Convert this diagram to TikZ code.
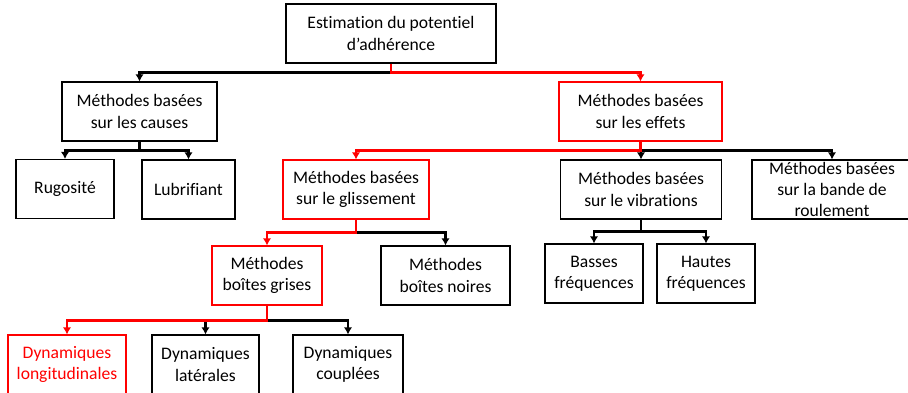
\documentclass[tikz,border=0pt]{standalone}
\usepackage{fontspec}
\setmainfont{Carlito}[Ligatures=NoCommon]
\usepackage{tikz}
\usetikzlibrary{arrows.meta,calc}

\begin{document}
\begin{tikzpicture}[x=0.025cm,y=-0.025cm,>={Latex[length=5pt,width=6pt]},every node/.style={font=\fontsize{12.5}{15.2}\selectfont,align=center},
  box/.style={draw,line width=0.9pt,minimum height=1.475cm,inner sep=2pt},
  sel/.style={box,draw=red},
  link/.style={->,line width=2pt},
  redlink/.style={link,red}]
\useasboundingbox (0,0) rectangle (908,393);
\node[box,minimum width=5.25cm](est) at (391,33.5){Estimation du potentiel\\d’adhérence};
\node[box,minimum width=3.875cm](causes) at (139.5,111.5){Méthodes basées\\sur les causes};
\node[sel,minimum width=4.075cm](effets) at (640.5,111.5){Méthodes basées\\sur les effets};
\node[box,minimum width=2.45cm](rug) at (65,189){Rugosité};
\node[box,minimum width=2.325cm](lub) at (188.5,189.5){Lubrifiant};
\node[sel,minimum width=3.65cm](gliss) at (356,189.5){Méthodes basées\\sur le glissement};
\node[box,minimum width=4.025cm](vib) at (641,189.5){Méthodes basées\\sur le vibrations};
\node[box,minimum width=4.0cm,inner ysep=0pt](bande) at (832,189.5){Méthodes basées\\sur la bande de\\roulement};
\node[box,minimum width=2.45cm](basses) at (594,273.5){Basses\\fréquences};
\node[box,minimum width=2.45cm](hautes) at (706,273.5){Hautes\\fréquences};
\node[sel,minimum width=2.75cm](grises) at (267,275.5){Méthodes\\boîtes grises};
\node[box,minimum width=3.225cm](noires) at (445.5,275.5){Méthodes\\boîtes noires};
\node[sel,minimum width=2.95cm,text=red](longi) at (67,364.5){Dynamiques\\longitudinales};
\node[box,minimum width=2.675cm](lat) at (205.5,364.5){Dynamiques\\latérales};
\node[box,minimum width=2.75cm](coup) at (348,364.5){Dynamiques\\couplées};
% junctions of the buses
\coordinate (j0) at ($(est.south)+(0,9)$); \coordinate (j1) at ($(causes.south)+(0,9)$);
\coordinate (j2) at ($(effets.south)+(0,9)$); \coordinate (j3) at ($(gliss.south)+(0,13)$);
\coordinate (j4) at ($(vib.south)+(0,12)$); \coordinate (j5) at ($(grises.south)+(0,15)$);
% black links
\draw[link](j0)-|(causes.north); \draw[link](causes.south)--(j1)-|(rug.north); \draw[link](j1)-|(lub.north);
\draw[link](j2)-|(vib.north); \draw[link](j2)-|(bande.north); \draw[link](vib.south)--(j4)-|(basses.north); \draw[link](j4)-|(hautes.north);
\draw[link](j3)-|(noires.north); \draw[link](j5)-|(lat.north); \draw[link](j5)-|(coup.north);
% red path
\draw[redlink](est.south)--(j0)-|(effets.north); \draw[redlink](effets.south)--(j2)-|(gliss.north);
\draw[redlink](gliss.south)--(j3)-|(grises.north); \draw[redlink](grises.south)--(j5)-|(longi.north);
\end{tikzpicture}
\end{document}
